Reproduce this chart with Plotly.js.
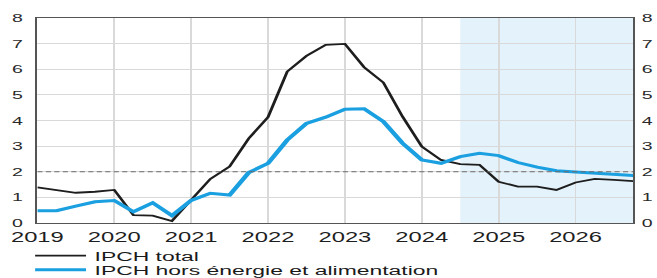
<!DOCTYPE html>
<html>
<head>
<meta charset="utf-8">
<script src="https://cdn.plot.ly/plotly-3.0.1.min.js"></script>
<style>
  html, body { margin: 0; padding: 0; background: #ffffff; overflow: hidden; }
  #chart { width: 387px; height: 278px; transform: scaleX(1.6977); transform-origin: 0 0; }
</style>
</head>
<body>
<div id="chart"></div>
<script>
// Quarterly observations / projections (year fraction)
const quarters = [
  2019.00, 2019.25, 2019.50, 2019.75,
  2020.00, 2020.25, 2020.50, 2020.75,
  2021.00, 2021.25, 2021.50, 2021.75,
  2022.00, 2022.25, 2022.50, 2022.75,
  2023.00, 2023.25, 2023.50, 2023.75,
  2024.00, 2024.25, 2024.50, 2024.75,
  2025.00, 2025.25, 2025.50, 2025.75,
  2026.00, 2026.25, 2026.50, 2026.75
];
// IPCH total (%)
const ipchTotal = [
  1.39, 1.29, 1.18, 1.22,
  1.29, 0.31, 0.29, 0.08,
  0.92, 1.72, 2.20, 3.30,
  4.13, 5.91, 6.52, 6.95,
  6.99, 6.08, 5.48, 4.15,
  2.98, 2.46, 2.30, 2.27,
  1.61, 1.42, 1.42, 1.29,
  1.58, 1.72, 1.68, 1.63
];
// IPCH hors énergie et alimentation (%)
const ipchCore = [
  0.48, 0.48, 0.66, 0.83,
  0.88, 0.44, 0.79, 0.29,
  0.88, 1.16, 1.09, 1.97,
  2.33, 3.24, 3.89, 4.13,
  4.44, 4.46, 3.96, 3.11,
  2.46, 2.33, 2.59, 2.72,
  2.63, 2.36, 2.18, 2.04,
  1.99, 1.95, 1.91, 1.85
];
const seriesNames = ['IPCH total', 'IPCH hors énergie et alimentation'];
const yearTicks = [2019, 2020, 2021, 2022, 2023, 2024, 2025, 2026];
const yearLabels = ['2019', '2020', '2021', '2022', '2023', '2024', '2025', '2026'];
const yTicks = [0, 1, 2, 3, 4, 5, 6, 7, 8];
const target = [2, 2];
const targetX = [2019, 2026.75];
const projectionStart = 2024.5;
const projectionEnd = 2026.75;

const FONT = '"Liberation Sans", Arial, sans-serif';

const traces = [
  {
    x: targetX, y: target, xaxis: 'x', yaxis: 'y2', mode: 'lines',
    line: { color: '#6b6b6b', width: 1, dash: '3px,2px' },
    showlegend: false, hoverinfo: 'skip'
  },
  {
    x: quarters, y: ipchTotal, mode: 'lines', name: seriesNames[0],
    line: { color: '#1e1e1e', width: 1.8 }, legend: 'legend'
  },
  {
    x: quarters, y: ipchCore, mode: 'lines', name: seriesNames[1],
    line: { color: '#1a9fe0', width: 3 }, legend: 'legend2'
  }
];

const axisLine = '#555555';
const layout = {
  width: 387, height: 278,
  margin: { l: 22, r: 14, t: 18, b: 55, autoexpand: false },
  paper_bgcolor: '#ffffff', plot_bgcolor: '#ffffff',
  font: { family: FONT, color: '#222222' },
  xaxis: {
    range: [2019, 2026.75], tickvals: yearTicks, ticktext: yearLabels,
    showgrid: true, gridcolor: '#d9d9d9', gridwidth: 1,
    showline: true, linecolor: axisLine, linewidth: 1.2, mirror: true,
    ticks: '', ticklabelstandoff: 1, tickangle: 0,
    tickfont: { family: FONT, size: 14, color: '#1e1e1e' },
    zeroline: false, fixedrange: true
  },
  yaxis: {
    range: [0, 8], tickvals: yTicks,
    showgrid: true, gridcolor: '#d9d9d9', gridwidth: 1,
    showline: true, linecolor: axisLine, linewidth: 1.2, mirror: true,
    ticks: '', ticklabelstandoff: 5,
    tickfont: { family: FONT, size: 11.5, color: '#2a2a2a' },
    zeroline: false, fixedrange: true
  },
  yaxis2: {
    range: [0, 8], tickvals: yTicks, overlaying: 'y', side: 'right', anchor: 'x',
    showgrid: false, showline: false, ticks: '', ticklabelstandoff: 4,
    tickfont: { family: FONT, size: 11.5, color: '#2a2a2a' },
    zeroline: false, fixedrange: true
  },
  shapes: [
    {
      type: 'rect', xref: 'x', yref: 'paper',
      x0: projectionStart, x1: projectionEnd, y0: 0, y1: 1,
      fillcolor: '#e4f2fb', line: { width: 0 }, layer: 'below'
    }
  ],
  legend: {
    x: -0.018, y: -0.160,
    xanchor: 'left', yanchor: 'middle', bgcolor: 'rgba(0,0,0,0)',
    font: { family: FONT, size: 13.5, color: '#1a1a1a' }, borderwidth: 0
  },
  legend2: {
    x: -0.018, y: -0.229,
    xanchor: 'left', yanchor: 'middle', bgcolor: 'rgba(0,0,0,0)',
    font: { family: FONT, size: 13.5, color: '#1a1a1a' }, borderwidth: 0
  },
  showlegend: true
};

Plotly.newPlot('chart', traces, layout, { displayModeBar: false, staticPlot: true });
</script>
</body>
</html>
